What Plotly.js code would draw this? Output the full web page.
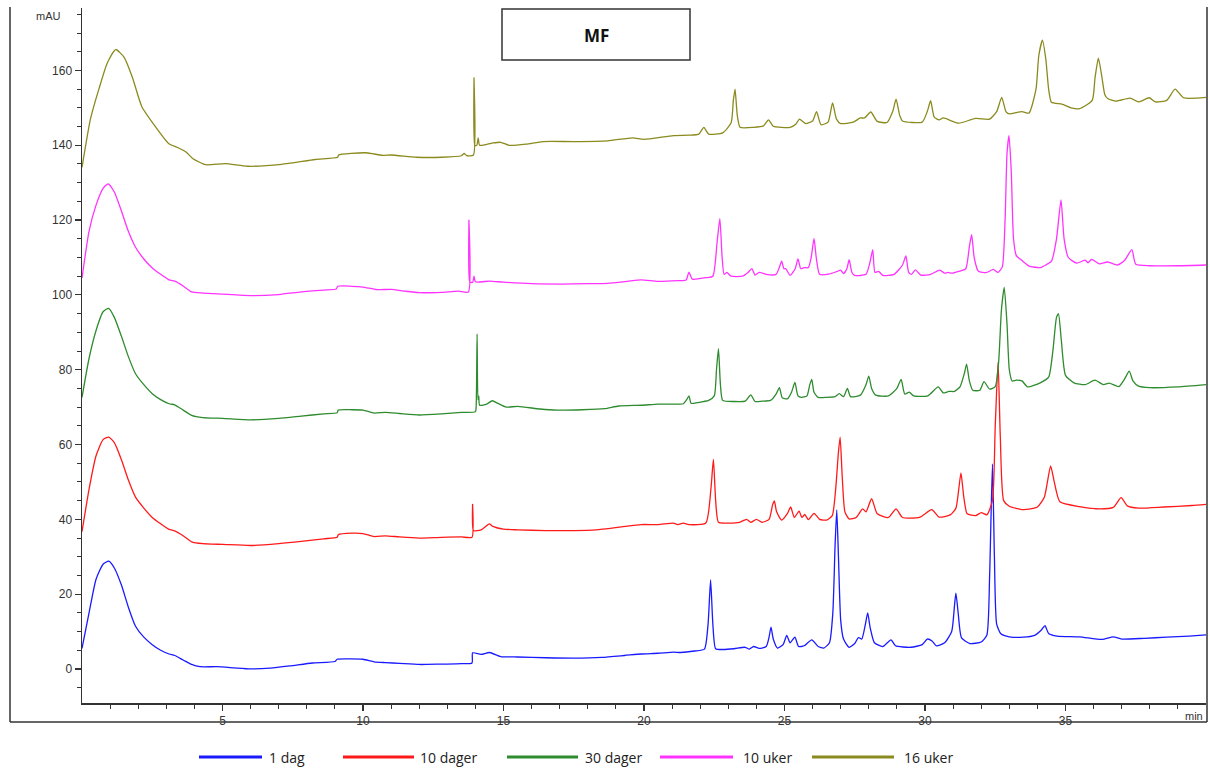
<!DOCTYPE html>
<html>
<head>
<meta charset="utf-8">
<script src="https://cdn.plot.ly/plotly-3.0.1.min.js"></script>
<style>
  html, body { margin: 0; padding: 0; background: #ffffff; }
  #chart { width: 1210px; height: 769px; }
</style>
</head>
<body>
<div id="chart"></div>
<script>
// ---- data (time in min, absorbance in mAU) ----
const seriesNames = ["1 dag", "10 dager", "30 dager", "10 uker", "16 uker"];
const seriesColors = ["#1a1aff", "#ff1a1a", "#2e8b2e", "#ff33ff", "#8a8a1e"];
const xTickValues = [5, 10, 15, 20, 25, 30, 35];
const yTickValues = [0, 20, 40, 60, 80, 100, 120, 140, 160];

const dag1 = [[0,5.5],[0.25,15],[0.5,24],[0.75,28],[0.95,28.8],[1.15,27],[1.4,22.5],[1.65,16.5],[1.9,11.5],[2.2,8.5],[2.5,6.5],[2.8,5],[3.1,4],[3.3,3.6],[3.6,2.4],[3.9,1.2],[4.2,0.6],[4.8,0.6],[5.4,0.3],[6.0,0],[6.7,0.2],[7.4,0.8],[8.2,1.6],[9.0,2.0],[9.08,2.6],[9.5,2.7],[10.0,2.6],[10.4,1.9],[10.8,1.7],[11.3,1.5],[12.0,1.2],[12.8,1.3],[13.5,1.4],[13.88,1.6],[13.9,4.3],[14.2,3.9],[14.5,4.4],[14.9,3.3],[15.5,3.2],[16.5,3.0],[17.5,2.9],[18.5,3.1],[19.3,3.6],[19.9,4.0],[20.5,4.2],[21.05,4.5],[21.3,4.4],[21.8,4.8],[22.15,5.3],[22.28,12],[22.37,23.8],[22.45,12],[22.55,5.4],[22.8,5.2],[23.2,5.4],[23.6,5.8],[23.75,5.3],[23.9,6],[24.1,5.5],[24.35,6],[24.45,8.5],[24.52,11.2],[24.6,8],[24.75,5.6],[24.95,6.5],[25.08,9],[25.2,7],[25.37,8.5],[25.5,6],[25.7,6.2],[25.97,7.8],[26.2,6],[26.4,5.6],[26.6,7],[26.72,15],[26.8,33],[26.86,42.5],[26.92,30],[27.0,13],[27.1,8],[27.3,5.8],[27.5,6.8],[27.63,8.4],[27.75,8],[27.88,12],[27.96,15],[28.05,11],[28.2,7],[28.5,6],[28.79,7.8],[28.95,6.2],[29.5,5.8],[29.9,6.5],[30.08,8],[30.25,7.5],[30.4,6.2],[30.7,7],[30.95,10],[31.05,17],[31.1,20.3],[31.18,15],[31.3,8.3],[31.6,6.8],[32.0,7.2],[32.2,9],[32.3,25],[32.4,54.8],[32.47,30],[32.55,12],[32.7,9.4],[33.0,8.6],[33.5,8.5],[33.9,9],[34.15,10.5],[34.27,11.6],[34.4,9.5],[34.7,8.8],[35.5,8.6],[36.3,7.9],[36.7,8.6],[37.0,8.0],[37.8,8.2],[38.6,8.5],[39.4,8.8],[40,9.1]];

const dager10 = [[0,36.7],[0.25,48],[0.5,57],[0.75,61.3],[0.95,62],[1.15,60.5],[1.4,56],[1.65,50.5],[1.9,46],[2.2,43],[2.5,40.5],[2.8,38.8],[3.1,37.3],[3.3,36.9],[3.6,35.6],[3.9,34],[4.3,33.5],[5.0,33.3],[6.0,33],[7.0,33.5],[7.8,34.1],[8.6,34.8],[9.08,35.2],[9.12,35.9],[9.6,36.3],[10.0,36.2],[10.4,35.4],[10.8,35.6],[11.3,35.3],[12.0,35],[12.8,35.2],[13.5,35.3],[13.88,35.2],[13.9,44],[13.93,37],[14.2,37.2],[14.5,38.8],[14.6,38.2],[15.0,37.4],[15.5,37.2],[16.5,37],[17.5,37],[18.3,37.2],[19.2,38],[19.9,38.6],[20.5,38.6],[21.05,39],[21.2,38.6],[21.4,39],[21.6,38.6],[22.2,39],[22.38,48],[22.47,56],[22.55,45],[22.65,39.2],[23.0,39],[23.4,39.2],[23.65,40],[23.8,39.2],[24.0,40],[24.2,39.2],[24.45,40],[24.58,44],[24.64,44.9],[24.72,42],[24.9,39.8],[25.1,41.5],[25.22,43.3],[25.35,40.5],[25.52,42.2],[25.62,40.5],[25.72,41.3],[25.85,39.9],[26.05,41.6],[26.25,40],[26.5,39.8],[26.7,41],[26.82,48],[26.92,58],[26.98,62],[27.05,52],[27.15,42],[27.3,40.1],[27.55,40.5],[27.78,42.8],[27.9,42],[28.1,45.5],[28.3,41.5],[28.7,40.5],[28.97,42.8],[29.2,40.5],[29.8,40.5],[30.24,42.6],[30.5,40.6],[30.9,41.2],[31.1,43],[31.2,48],[31.28,52.4],[31.38,46],[31.5,41.5],[31.8,41],[32.0,41.8],[32.2,41.2],[32.4,45],[32.5,65],[32.6,82],[32.68,62],[32.8,45],[33.0,43.5],[33.5,42.6],[34.0,43.3],[34.25,46],[34.47,54.3],[34.6,50],[34.8,44.7],[35.5,43.4],[36.2,42.8],[36.7,43.2],[36.98,45.8],[37.2,43.6],[37.6,43],[38.5,43.3],[39.5,43.7],[40,44]];

const dager30 = [[0,72.6],[0.25,83],[0.5,90.5],[0.75,95.5],[0.95,96.4],[1.15,94],[1.4,89],[1.65,83.5],[1.9,79],[2.2,76],[2.5,73.6],[2.8,72],[3.1,70.9],[3.3,70.6],[3.6,69.2],[3.9,67.8],[4.3,67.2],[5.0,67],[6.0,66.6],[7.0,67],[7.8,67.6],[8.6,68.2],[9.08,68.5],[9.12,69.2],[9.6,69.3],[10.0,69.2],[10.4,68.4],[10.8,68.6],[11.3,68.3],[12.0,67.9],[12.8,68.2],[13.5,68.6],[14.0,68.8],[14.03,71],[14.06,89.6],[14.09,72],[14.12,73],[14.15,70.5],[14.4,70.8],[14.6,71.7],[14.8,71],[15.1,70],[15.5,70.2],[16.3,69.5],[16.9,69.2],[17.8,69.3],[18.6,69.6],[19.1,70.3],[19.9,70.5],[20.5,70.8],[21.0,70.8],[21.4,70.9],[21.52,72],[21.6,73],[21.68,71],[21.9,71.2],[22.3,71.8],[22.5,73],[22.58,80],[22.65,85.6],[22.72,76],[22.8,71.8],[23.2,71.5],[23.6,71.6],[23.8,73.3],[23.95,71.5],[24.2,71.6],[24.5,71.8],[24.7,73.5],[24.82,75.2],[24.92,72.5],[25.1,72.2],[25.25,74],[25.37,76.6],[25.48,73],[25.6,72.6],[25.8,73],[25.9,76],[25.97,77.4],[26.05,74],[26.2,72.6],[26.5,72.6],[26.8,72.8],[26.95,73.6],[27.1,72.8],[27.24,75],[27.35,72.8],[27.7,73.2],[27.9,76],[28.0,78.3],[28.1,75],[28.25,73.2],[28.7,73],[29.0,75],[29.15,77.4],[29.28,73.5],[29.44,74],[29.6,73],[30.1,73],[30.47,75.4],[30.65,73.8],[30.85,74.2],[31.05,74.2],[31.25,75.5],[31.4,79],[31.48,81.5],[31.58,77],[31.7,74.5],[31.95,74.5],[32.1,76.8],[32.3,74.8],[32.5,75.5],[32.62,82],[32.72,96],[32.82,102],[32.92,92],[33.0,80],[33.1,77],[33.25,77.2],[33.45,77],[33.65,75.4],[34.1,76.5],[34.4,78],[34.55,85],[34.68,94],[34.75,94.9],[34.85,88],[35.0,78.5],[35.3,76.5],[35.7,76],[36.05,77.2],[36.35,76],[36.55,76.4],[36.9,75.5],[37.1,77.5],[37.27,79.6],[37.4,77],[37.6,75.6],[38.0,75.2],[39.0,75.4],[40,76]];

const uker10 = [[0,104.5],[0.25,117],[0.5,124],[0.75,128.5],[0.93,129.7],[1.15,127.5],[1.4,122.5],[1.65,117],[1.9,112.8],[2.2,109.6],[2.5,107.2],[2.8,105.5],[3.1,104],[3.3,103.7],[3.6,102.4],[3.9,100.8],[4.3,100.5],[5.0,100.2],[6.0,99.8],[7.0,100.1],[7.8,100.8],[8.6,101.3],[9.05,101.6],[9.1,102.3],[9.6,102.3],[10.0,102.1],[10.5,101.4],[11.0,101.5],[11.5,101],[12.0,100.6],[12.8,100.7],[13.4,101],[13.75,100.8],[13.77,120],[13.8,103.5],[13.9,103.3],[13.95,105],[14.0,103.5],[14.5,103.7],[15.0,103.4],[16.0,103],[17.0,102.9],[18.0,103],[18.7,103.1],[19.4,103.6],[19.9,104],[20.5,103.6],[21.2,103.8],[21.5,104],[21.6,106.1],[21.72,104.2],[22.2,104.6],[22.45,105],[22.6,114],[22.7,120.4],[22.78,110],[22.85,105.5],[22.95,106],[23.1,105],[23.5,105],[23.7,106],[23.84,107],[23.95,105.3],[24.1,106],[24.4,105.4],[24.7,105.5],[24.8,107],[24.9,109],[24.98,107],[25.05,107],[25.2,105.2],[25.38,107],[25.48,109.6],[25.58,107],[25.7,107.3],[25.85,107.3],[25.95,110],[26.05,115.1],[26.13,110],[26.25,105.5],[26.6,105.6],[26.85,106.2],[27.0,106.6],[27.1,105.7],[27.22,107],[27.3,109.4],[27.4,106],[27.5,105.2],[27.9,105.5],[28.05,109],[28.14,112.1],[28.22,106],[28.35,106.3],[28.5,105.2],[28.9,105.5],[29.2,108],[29.32,110.4],[29.42,106],[29.52,105.5],[29.66,106.7],[29.85,105.3],[30.2,105.5],[30.53,106.6],[30.7,105.8],[30.82,106],[30.95,105.8],[31.2,106.3],[31.45,107],[31.58,113],[31.66,116.1],[31.75,110],[31.9,106.3],[32.2,106],[32.43,106.8],[32.6,106],[32.75,107.5],[32.85,120],[32.92,138],[32.99,142.6],[33.07,133],[33.15,115],[33.25,110.5],[33.4,109.5],[33.7,107.7],[34.1,107.3],[34.3,108],[34.5,109],[34.68,115],[34.84,125.4],[34.95,115],[35.1,110],[35.4,108.5],[35.7,109.3],[35.8,108.6],[35.93,109.5],[36.2,108.3],[36.5,108.8],[36.85,108],[37.1,109.2],[37.36,112.1],[37.5,108.2],[38.0,107.8],[39.0,107.8],[40,108]];

const uker16 = [[0,134.1],[0.3,147],[0.6,155],[0.9,162],[1.2,165.6],[1.5,163.5],[1.8,158],[2.13,150.3],[2.6,145.1],[3.08,140.5],[3.4,139.4],[3.7,138.2],[3.95,136.4],[4.4,134.8],[5.1,135.1],[5.9,134.4],[7.1,134.9],[8.3,136.2],[9.1,136.8],[9.13,137.4],[10.1,138],[10.7,137.3],[11.0,137.4],[11.9,136.8],[12.8,136.8],[13.5,137.2],[13.6,137.8],[13.7,137.2],[13.93,137.4],[13.95,158],[13.98,140],[14.05,140],[14.1,142],[14.15,140],[14.6,140.6],[14.9,140.8],[15.2,140],[15.8,140.3],[16.4,141],[17.5,141],[18.7,141.2],[19.6,142],[20.0,141.6],[21.05,142.6],[21.6,142.7],[21.95,143],[22.13,144.8],[22.3,143],[22.8,143.3],[23.1,146],[23.18,152],[23.24,155],[23.32,148],[23.42,144.8],[23.9,144.8],[24.25,145.2],[24.43,146.8],[24.6,145.1],[25.2,144.8],[25.4,145.6],[25.53,147],[25.75,145.8],[26.0,146.5],[26.14,149],[26.3,145.5],[26.55,146.2],[26.71,151.3],[26.85,147],[27.0,145.8],[27.45,146.2],[27.7,147.3],[27.85,147.3],[28.07,148.9],[28.3,146.4],[28.65,146.1],[28.85,149],[28.97,152.3],[29.1,148],[29.2,146.5],[29.9,146.2],[30.08,149],[30.2,151.9],[30.33,147.5],[30.5,146.8],[30.65,147.3],[31.2,145.9],[31.8,147.2],[32.3,147],[32.55,149],[32.73,152.8],[32.88,149],[33.0,148.4],[33.45,149],[33.7,148.6],[33.95,155],[34.05,164],[34.18,168.1],[34.3,163],[34.4,155],[34.5,151.5],[34.87,151],[35.2,150],[35.5,149.8],[35.95,152],[36.05,158],[36.17,163.3],[36.3,158],[36.4,153.5],[36.5,152.5],[36.8,151.8],[37.3,152.6],[37.6,151.6],[37.98,152.7],[38.2,151.6],[38.6,152],[38.9,155],[39.2,152.7],[40,152.8]];

const allSeries = [dag1, dager10, dager30, uker10, uker16];

// ---- traces ----
const traces = allSeries.map((s, i) => ({
  type: 'scatter',
  mode: 'lines',
  name: seriesNames[i],
  x: s.map(p => p[0]),
  y: s.map(p => p[1]),
  line: { color: seriesColors[i], width: 1.3, shape: 'spline', smoothing: 0.55 },
  showlegend: false,
  hoverinfo: 'x+y+name'
}));

// ---- layout helpers (pixel -> paper) ----
const L = 82, R = 1206, T = 8, B = 703;
const px = v => (v - L) / (R - L);
const py = v => (B - v) / (B - T);

const legendPos = [
  { x0: 199, x1: 262, tx: 267 },
  { x0: 343, x1: 414, tx: 418 },
  { x0: 507, x1: 578, tx: 583 },
  { x0: 660, x1: 733, tx: 741 },
  { x0: 812, x1: 894, tx: 902 }
];
const legendY = 757;

const shapes = [
  { type: 'rect', xref: 'paper', yref: 'paper', x0: px(502), x1: px(690), y0: py(60), y1: py(9),
    line: { color: '#333333', width: 1.5 }, fillcolor: 'rgba(0,0,0,0)' },
  { type: 'line', xref: 'paper', yref: 'paper', x0: px(10), x1: px(10), y0: py(722), y1: py(7),
    line: { color: '#333333', width: 1.5 } },
  { type: 'line', xref: 'paper', yref: 'paper', x0: px(10), x1: px(1207), y0: py(722), y1: py(722),
    line: { color: '#333333', width: 1.5 } },
  { type: 'line', xref: 'paper', yref: 'paper', x0: px(1207), x1: px(1207), y0: py(722), y1: py(7),
    line: { color: '#333333', width: 1.5 } }
];
const annotations = [
  { xref: 'paper', yref: 'paper', x: px(596), y: py(35), text: '<b>MF</b>', showarrow: false,
    font: { family: 'Open Sans, Arial, sans-serif', size: 17, color: '#111' }, xanchor: 'center', yanchor: 'middle' },
  { xref: 'paper', yref: 'paper', x: px(63), y: py(16), text: 'mAU', showarrow: false,
    font: { family: 'Liberation Sans, Arial, sans-serif', size: 11, color: '#333' }, xanchor: 'right', yanchor: 'middle' },
  { xref: 'paper', yref: 'paper', x: px(1205), y: py(716), text: 'min', showarrow: false,
    font: { family: 'Liberation Sans, Arial, sans-serif', size: 11, color: '#333' }, xanchor: 'right', yanchor: 'middle' }
];
legendPos.forEach((p, i) => {
  shapes.push({ type: 'line', xref: 'paper', yref: 'paper', x0: px(p.x0), x1: px(p.x1), y0: py(legendY), y1: py(legendY),
    line: { color: seriesColors[i], width: 3 } });
  annotations.push({ xref: 'paper', yref: 'paper', x: px(p.tx), y: py(legendY), text: seriesNames[i], showarrow: false,
    xanchor: 'left', yanchor: 'middle',
    font: { family: 'Liberation Sans Narrow, Arial Narrow, Open Sans, sans-serif', size: 14, color: '#222' } });
});

const minorX = [];
for (let m = 1; m < 40; m++) if (m % 5 !== 0) minorX.push(m);

const axisFont = { family: 'Liberation Sans, Arial, sans-serif', size: 12, color: '#333' };
const layout = {
  width: 1210, height: 769,
  margin: { l: L, r: 1210 - R, t: T, b: 769 - B, pad: 0 },
  paper_bgcolor: '#ffffff', plot_bgcolor: '#ffffff',
  showlegend: false,
  xaxis: {
    range: [0, 40], tickmode: 'array', tickvals: xTickValues, ticktext: xTickValues.map(String),
    showline: true, linecolor: '#333333', linewidth: 1.5,
    ticks: 'outside', ticklen: 6, tickcolor: '#333333', tickwidth: 1.2,
    minor: { ticks: 'outside', tickmode: 'array', tickvals: minorX, ticklen: 4, tickcolor: '#333333', tickwidth: 1, showgrid: false },
    showgrid: false, zeroline: false, tickfont: axisFont
  },
  yaxis: {
    range: [-9.1, 176.7], tickmode: 'array', tickvals: yTickValues, ticktext: yTickValues.map(String),
    showline: true, linecolor: '#333333', linewidth: 1.5,
    ticks: 'outside', ticklen: 6, tickcolor: '#333333', tickwidth: 1.2,
    minor: { ticks: 'outside', tick0: 0, dtick: 5, ticklen: 4, tickcolor: '#333333', tickwidth: 1, showgrid: false },
    showgrid: false, zeroline: false, tickfont: axisFont
  },
  shapes: shapes,
  annotations: annotations
};

Plotly.newPlot('chart', traces, layout, { displayModeBar: false, staticPlot: true });
</script>
</body>
</html>
